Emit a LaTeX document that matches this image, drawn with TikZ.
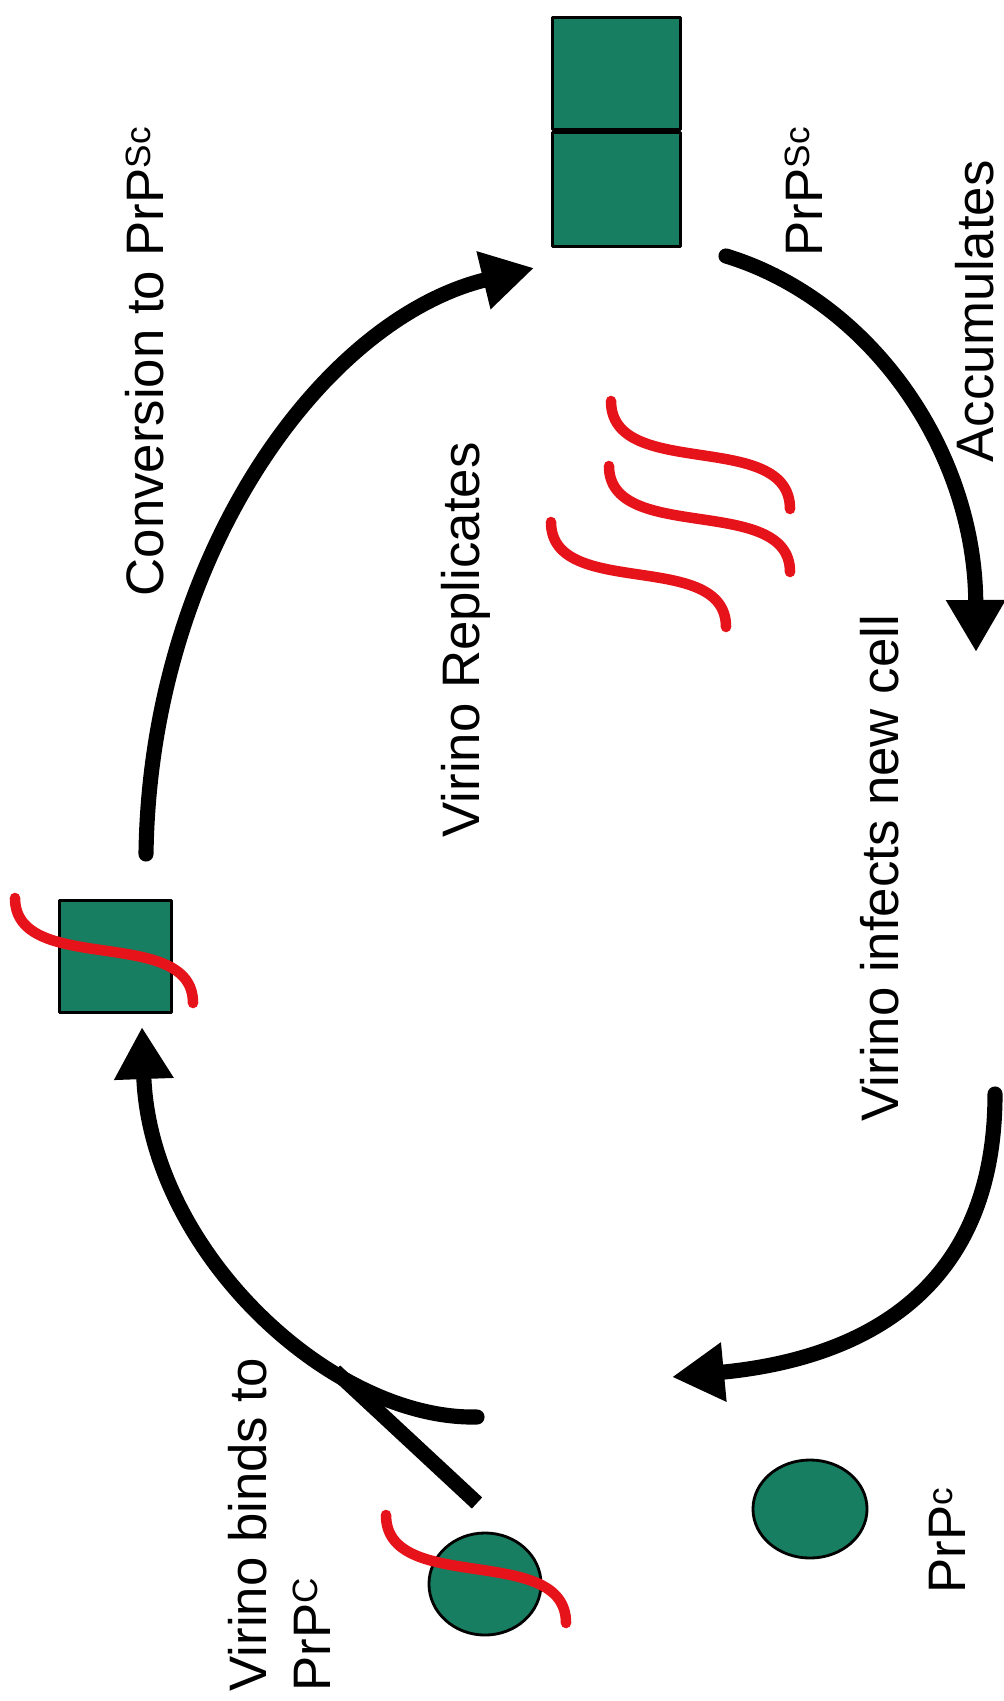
\documentclass[tikz,border=0pt]{standalone}
\usepackage{fontspec}
\setmainfont{Liberation Sans}
\usetikzlibrary{arrows.meta,shapes.geometric}
\definecolor{prion}{RGB}{24,126,98}
\definecolor{virino}{RGB}{230,20,26}
\newcommand{\supx}[1]{\raisebox{3.6pt}{\fontsize{10pt}{12pt}\selectfont #1}}
\begin{document}
\begin{tikzpicture}[x=0.01cm,y=-0.01cm,line cap=round,line join=round,
  font=\fontsize{15pt}{18pt}\selectfont,
  flow/.style={line width=4.3pt,-{Triangle[length=5.2mm,width=5.6mm]}},
  strand/.style={virino,line width=3pt},
  block/.style={draw=black,line width=0.8pt,fill=prion,inner sep=0pt},
  lbl/.style={rotate=90,anchor=base west,inner sep=0pt}]
  \useasboundingbox (0,0) rectangle (1003,1701);
  \node[block,minimum width=1.28cm,minimum height=1.12cm,anchor=north west] (sctop) at (551,16) {};
  \node[block,minimum width=1.28cm,minimum height=1.14cm,anchor=north west] (scbot) at (sctop.south west) {};
  \node[block,minimum width=1.12cm,minimum height=1.12cm,anchor=north west] (conv) at (58,899) {};
  \node[block,ellipse,minimum width=1.12cm,minimum height=1.02cm] (bound) at (485,1584) {};
  \node[block,ellipse,minimum width=1.14cm,minimum height=0.98cm] (prpc) at (810,1509) {};
  \draw[strand] (15,898) .. controls (15,977) and (193,924) .. (193,1003);
  \draw[strand] (386,1515) .. controls (386,1596) and (566,1542) .. (566,1623);
  \draw[strand] (551,522) .. controls (551,601) and (726,548) .. (726,627);
  \draw[strand] (609,466) .. controls (609,545) and (790,493) .. (790,572);
  \draw[strand] (611,401) .. controls (611,482) and (790,428) .. (790,509);
  \coordinate (convtail) at (146,854);
  \coordinate (convtip) at (534,268);
  \coordinate (acctail) at (726,256);
  \coordinate (acctip) at (976,652);
  \coordinate (newtail) at (995,1094);
  \coordinate (newtip) at (672,1377);
  \coordinate (bindtail) at (477,1417);
  \coordinate (bindtip) at (142,1027);
  \coordinate (bindfoot) at (477,1503);
  \coordinate (bindjoin) at (335,1371);
  \draw[flow] (convtail) .. controls (150,560) and (320,320) .. (convtip);
  \draw[flow] (acctail) .. controls (870,300) and (975,450) .. (acctip);
  \draw[flow] (newtail) .. controls (995,1300) and (850,1360) .. (newtip);
  \draw[flow] (bindtail) .. controls (330,1420) and (150,1250) .. (bindtip);
  \draw[line width=4.3pt,line cap=butt] (bindfoot) -- (bindjoin);
  \node[lbl] (convlbl) at (163,597) {Conversion to PrP\supx{Sc}};
  \node[lbl] (sclbl) at (822,257) {PrP\supx{Sc}};
  \node[lbl] (acclbl) at (993,463) {Accumulates};
  \node[lbl] (repllbl) at (479,838) {Virino Replicates};
  \node[lbl] (newlbl) at (898,1122) {Virino infects new cell};
  \node[lbl] (pclbl) at (965,1594) {PrP\supx{c}};
  \node[rotate=90,anchor=north west,inner sep=0pt,align=left] (bindlbl) at (228,1692) {Virino binds to\\PrP\supx{C}};
\end{tikzpicture}
\end{document}
